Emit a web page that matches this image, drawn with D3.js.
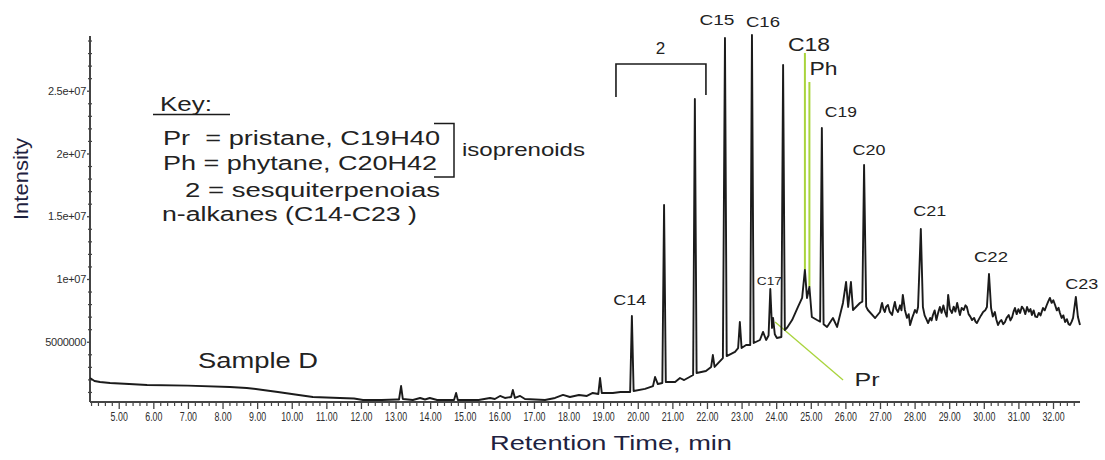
<!DOCTYPE html>
<html>
<head>
<meta charset="utf-8">
<script src="https://cdn.jsdelivr.net/npm/d3@7"></script>
<style>
  html, body { margin: 0; padding: 0; background: #fff; }
  svg { display: block; font-family: "Liberation Sans", Arial, sans-serif; }
</style>
</head>
<body>
<svg id="chart" width="1105" height="460"></svg>
<script>
// ---- Data -------------------------------------------------------------
// Total ion chromatogram of Sample D: [retention time (min), intensity (millions)]
const chromatogram = [
  [4.17, 2.11], [4.30, 1.87], [4.46, 1.79], [4.75, 1.71], [5.30, 1.63], [5.82, 1.55],
  [7.00, 1.50], [8.21, 1.39], [8.70, 1.32], [9.17, 1.16], [9.60, 1.00], [10.10, 0.80],
  [10.61, 0.60], [11.39, 0.52], [11.80, 0.48], [12.06, 0.36], [12.60, 0.36], [13.04, 0.40],
  [13.10, 0.40], [13.16, 1.47], [13.21, 0.44], [13.50, 0.36], [13.71, 0.52], [13.85, 0.40],
  [13.99, 0.52], [14.20, 0.36], [14.69, 0.36], [14.75, 0.92], [14.80, 0.36], [15.40, 0.36],
  [15.73, 0.52], [15.87, 0.44], [16.02, 0.68], [16.16, 0.52], [16.34, 0.60], [16.39, 1.16],
  [16.45, 0.52], [16.60, 0.68], [16.74, 0.44], [17.32, 0.36], [17.61, 0.52], [17.84, 0.76],
  [18.04, 0.60], [18.30, 0.76], [18.53, 0.68], [18.70, 0.92], [18.86, 0.84], [18.91, 2.11],
  [18.96, 0.92], [19.28, 0.92], [19.50, 1.00], [19.78, 1.00], [19.83, 7.05], [19.88, 1.08],
  [20.21, 1.24], [20.44, 1.47], [20.50, 2.19], [20.58, 1.63], [20.71, 1.71], [20.76, 15.90],
  [20.81, 1.79], [21.08, 1.79], [21.22, 2.11], [21.34, 1.95], [21.60, 2.35], [21.65, 24.34],
  [21.70, 2.51], [21.97, 2.67], [22.12, 2.99], [22.17, 3.94], [22.22, 2.99], [22.46, 3.70],
  [22.52, 29.20], [22.57, 3.86], [22.81, 4.20], [22.90, 4.50], [22.95, 6.57], [23.00, 4.50],
  [23.13, 4.74], [23.25, 4.74], [23.30, 29.44], [23.35, 4.90], [23.53, 5.14], [23.62, 5.78],
  [23.71, 5.14], [23.78, 5.50], [23.83, 9.20], [23.88, 6.10], [23.91, 6.89], [23.96, 5.60],
  [24.02, 5.30], [24.15, 5.38], [24.20, 27.05], [24.25, 5.94], [24.31, 6.10], [24.46, 6.73],
  [24.63, 7.77], [24.75, 8.49], [24.83, 10.72], [24.89, 8.49], [24.96, 9.36], [25.03, 6.97],
  [25.18, 6.73], [25.27, 6.60], [25.32, 22.03], [25.37, 6.40], [25.47, 6.18], [25.64, 6.89],
  [25.76, 6.18], [25.93, 8.09], [26.02, 9.76], [26.08, 7.77], [26.16, 9.76], [26.22, 7.53],
  [26.42, 8.09], [26.49, 8.20], [26.54, 19.08], [26.60, 7.80], [26.65, 7.53], [26.86, 6.89],
  [27.00, 7.37], [27.04, 7.90], [27.06, 8.09], [27.10, 7.60], [27.14, 7.37], [27.18, 7.80],
  [27.23, 7.93], [27.28, 7.40], [27.35, 7.13], [27.39, 7.70], [27.43, 8.17], [27.47, 7.60],
  [27.52, 7.37], [27.58, 7.90], [27.62, 7.50], [27.66, 8.73], [27.72, 7.53], [27.78, 6.90],
  [27.83, 7.20], [27.87, 6.33], [27.93, 6.90], [27.97, 7.20], [28.01, 7.53], [28.06, 7.30],
  [28.10, 7.77], [28.18, 13.98], [28.24, 7.77], [28.29, 7.10], [28.34, 6.80], [28.39, 6.49],
  [28.45, 6.90], [28.49, 6.70], [28.53, 7.13], [28.58, 7.50], [28.63, 6.73], [28.68, 7.30],
  [28.73, 7.77], [28.78, 7.30], [28.83, 7.90], [28.88, 7.37], [28.93, 7.00], [28.97, 8.73],
  [29.02, 7.60], [29.08, 7.29], [29.13, 7.80], [29.18, 7.40], [29.23, 8.09], [29.27, 7.60],
  [29.31, 7.13], [29.36, 7.70], [29.42, 7.53], [29.47, 7.90], [29.51, 7.77], [29.56, 7.20],
  [29.61, 7.00], [29.66, 6.73], [29.72, 6.90], [29.76, 6.60], [29.80, 6.49], [29.86, 6.80],
  [29.92, 7.10], [29.98, 7.37], [30.04, 7.50], [30.09, 7.77], [30.15, 10.40], [30.21, 7.69],
  [30.26, 7.00], [30.32, 7.37], [30.36, 6.80], [30.41, 6.33], [30.46, 6.60], [30.51, 6.73],
  [30.56, 6.40], [30.61, 6.57], [30.66, 6.90], [30.72, 7.13], [30.77, 6.70], [30.82, 6.97],
  [30.86, 7.40], [30.90, 7.69], [30.95, 7.20], [31.00, 7.60], [31.05, 7.29], [31.10, 7.80],
  [31.15, 7.61], [31.20, 7.20], [31.25, 7.77], [31.30, 7.40], [31.35, 7.60], [31.39, 7.13],
  [31.44, 7.50], [31.49, 7.00], [31.54, 6.97], [31.59, 7.30], [31.64, 7.10], [31.71, 7.69],
  [31.76, 7.50], [31.82, 7.93], [31.86, 8.20], [31.91, 8.49], [31.96, 8.10], [32.01, 8.30],
  [32.06, 7.93], [32.11, 7.50], [32.16, 7.70], [32.20, 7.29], [32.25, 6.90], [32.30, 7.10],
  [32.35, 6.57], [32.40, 6.80], [32.45, 6.40], [32.49, 6.33], [32.54, 6.60], [32.58, 6.90],
  [32.66, 8.57], [32.72, 6.97], [32.78, 6.33]
];

// Identified peaks: name, retention time (min), apex intensity (millions)
const peakNames = ["C14", "C15", "C16", "C17", "C18", "Ph", "C19", "C20", "C21", "C22", "C23", "Pr"];
const peakTimes = [19.83, 22.52, 23.30, 23.83, 24.83, 24.96, 25.32, 26.54, 28.18, 30.15, 32.66, 23.91];
const peakApex  = [7.05, 29.20, 29.44, 9.20, 10.72, 9.36, 22.03, 19.08, 13.98, 10.40, 8.57, 6.89];

// Sesquiterpenoid group (label "2") spans this retention-time window
const sesquiterpenoidWindow = [19.37, 21.97];

// Axis ticks
const xTickValues = [5, 6, 7, 8, 9, 10, 11, 12, 13, 14, 15, 16, 17, 18, 19, 20, 21, 22, 23, 24, 25, 26, 27, 28, 29, 30, 31, 32];
const xTickLabels = ["5.00", "6.00", "7.00", "8.00", "9.00", "10.00", "11.00", "12.00", "13.00", "14.00",
  "15.00", "16.00", "17.00", "18.00", "19.00", "20.00", "21.00", "22.00", "23.00", "24.00", "25.00",
  "26.00", "27.00", "28.00", "29.00", "30.00", "31.00", "32.00"];
const yTickValues = [5, 10, 15, 20, 25];
const yTickLabels = ["5000000", "1e+07", "1.5e+07", "2e+07", "2.5e+07"];

// Key text
const keyLines = ["Pr  = pristane, C19H40", "Ph = phytane, C20H42", "2 = sesquiterpenoias", "n-alkanes (C14-C23 )"];

// ---- Layout -----------------------------------------------------------
const plot = { left: 90, right: 1080, top: 36, bottom: 402 };
const GREEN = "#a9d43c";
const INK = "#1b1b1b";

// label placement relative to each peak apex (pixels)
const labelLayout = {
  C14: { dx: -2, dy: -11, size: 15, width: 33 },
  C15: { dx: -8, dy: -13, size: 15, width: 35 },
  C16: { dx: 11, dy: -8, size: 15, width: 34 },
  C17: { dx: -1, dy: -4, size: 11, width: 25 },
  C18: { dx: 4, dy: -219, size: 19, width: 42, leaderTop: -217 },
  Ph:  { dx: 14, dy: -212, size: 19, width: 28, leaderTop: -205 },
  C19: { dx: 19, dy: -11, size: 15, width: 32 },
  C20: { dx: 5, dy: -10, size: 15, width: 33 },
  C21: { dx: 9, dy: -13, size: 15, width: 33 },
  C22: { dx: 2, dy: -12, size: 15, width: 34 },
  C23: { dx: 6, dy: -8, size: 15, width: 33 },
  Pr:  { dx: 94, dy: 68, size: 19, width: 25, leaderFrom: [2, 4], leaderTo: [70, 62] }
};

const svg = d3.select("#chart");

const x = d3.scaleLinear().domain([4.17, 32.78]).range([plot.left, plot.right]);
const y = d3.scaleLinear().domain([0, 29.36]).range([404.5, plot.top]);

// ---- Axes -------------------------------------------------------------
const axisColor = "#444";

// minor ticks on x (every 0.2 min)
const xMinor = d3.range(4.2, 32.78, 0.2).filter(v => Math.abs(v - Math.round(v)) > 0.05);
svg.append("g")
  .attr("transform", `translate(0,${plot.bottom})`)
  .call(d3.axisBottom(x).tickValues(xMinor).tickSize(4).tickFormat(""))
  .call(g => g.select(".domain").remove())
  .call(g => g.selectAll("line").attr("stroke", axisColor).attr("stroke-width", 1.2));

const xAxis = svg.append("g")
  .attr("transform", `translate(0,${plot.bottom})`)
  .call(d3.axisBottom(x).tickValues(xTickValues).tickSize(7).tickPadding(3)
    .tickFormat((d, i) => xTickLabels[i]));
xAxis.select(".domain").remove();
xAxis.selectAll("line").attr("stroke", axisColor).attr("stroke-width", 1.3);
xAxis.selectAll("text")
  .attr("fill", "#2e2e2e")
  .style("font-size", "13px")
  .attr("transform", "scale(0.68,1)");

// minor ticks on y (every 1e6)
const yMinor = d3.range(1, 30).filter(v => v % 5 !== 0);
svg.append("g")
  .attr("transform", `translate(${plot.left + 2},0)`)
  .call(d3.axisLeft(y).tickValues(yMinor).tickSize(4).tickFormat(""))
  .call(g => g.select(".domain").remove())
  .call(g => g.selectAll("line").attr("stroke", axisColor).attr("stroke-width", 1.2));

const yAxis = svg.append("g")
  .attr("transform", `translate(${plot.left},0)`)
  .call(d3.axisLeft(y).tickValues(yTickValues).tickSize(3).tickPadding(1)
    .tickFormat((d, i) => yTickLabels[i]));
yAxis.select(".domain").remove();
yAxis.selectAll("line").attr("stroke", axisColor).attr("stroke-width", 1.3);
yAxis.selectAll("text")
  .attr("fill", "#2e2e2e")
  .style("font-size", "11px")
  .style("letter-spacing", "-0.3px");

// axis lines
svg.append("line")
  .attr("x1", plot.left).attr("x2", plot.left)
  .attr("y1", plot.top).attr("y2", plot.bottom)
  .attr("stroke", axisColor).attr("stroke-width", 2);
svg.append("line")
  .attr("x1", plot.left).attr("x2", plot.right)
  .attr("y1", plot.bottom).attr("y2", plot.bottom)
  .attr("stroke", axisColor).attr("stroke-width", 2);

// axis titles
svg.append("text")
  .attr("transform", "translate(28,179) rotate(-90)")
  .attr("text-anchor", "middle")
  .attr("textLength", 82).attr("lengthAdjust", "spacingAndGlyphs")
  .style("font-size", "20px").attr("fill", "#1e2240")
  .text("Intensity");

svg.append("text")
  .attr("x", 611).attr("y", 450)
  .attr("text-anchor", "middle")
  .attr("textLength", 242).attr("lengthAdjust", "spacingAndGlyphs")
  .style("font-size", "21px").attr("fill", "#1e2240")
  .text("Retention Time, min");

// ---- Leader lines (drawn under the trace) ------------------------------
const peaks = peakNames.map((name, i) => ({ name, t: peakTimes[i], v: peakApex[i] }));

peaks.forEach(p => {
  const L = labelLayout[p.name];
  const px = x(p.t), py = y(p.v);
  if (L.leaderTop !== undefined) {
    svg.append("line")
      .attr("x1", px).attr("x2", px)
      .attr("y1", py).attr("y2", py + L.leaderTop)
      .attr("stroke", GREEN).attr("stroke-width", 2);
  }
  if (L.leaderFrom) {
    svg.append("line")
      .attr("x1", px + L.leaderFrom[0]).attr("y1", py + L.leaderFrom[1])
      .attr("x2", px + L.leaderTo[0]).attr("y2", py + L.leaderTo[1])
      .attr("stroke", GREEN).attr("stroke-width", 1.3);
  }
});

// ---- Trace ------------------------------------------------------------
const line = d3.line().x(d => x(d[0])).y(d => y(d[1]));
svg.append("path")
  .datum(chromatogram)
  .attr("d", line)
  .attr("fill", "none")
  .attr("stroke", INK)
  .attr("stroke-width", 1.9)
  .attr("stroke-linejoin", "round");

// ---- Peak labels --------------------------------------------------------
peaks.forEach(p => {
  const L = labelLayout[p.name];
  svg.append("text")
    .attr("x", x(p.t) + L.dx).attr("y", y(p.v) + L.dy)
    .attr("text-anchor", "middle")
    .attr("textLength", L.width).attr("lengthAdjust", "spacingAndGlyphs")
    .style("font-size", L.size + "px")
    .attr("fill", "#222")
    .text(p.name);
});

// sesquiterpenoid bracket "2"
const bx0 = x(sesquiterpenoidWindow[0]), bx1 = x(sesquiterpenoidWindow[1]);
svg.append("path")
  .attr("d", `M${bx0},97 V64 H${bx1} V95`)
  .attr("fill", "none").attr("stroke", INK).attr("stroke-width", 1.6);
svg.append("text")
  .attr("x", (bx0 + bx1) / 2 - 0.5).attr("y", 54)
  .attr("text-anchor", "middle")
  .style("font-size", "17px").attr("fill", "#222")
  .text("2");

// ---- Key ----------------------------------------------------------------
svg.append("text")
  .attr("x", 160).attr("y", 111)
  .attr("textLength", 52).attr("lengthAdjust", "spacingAndGlyphs")
  .style("font-size", "21px").attr("fill", "#222")
  .text("Key:");
svg.append("line")
  .attr("x1", 153).attr("x2", 230).attr("y1", 114.5).attr("y2", 114.5)
  .attr("stroke", INK).attr("stroke-width", 1.4);

const keyX = [163, 163, 185, 162];
const keyY = [145, 170, 197, 221];
const keyW = [277, 274, 255, 255];
keyLines.forEach((s, i) => {
  svg.append("text")
    .attr("x", keyX[i]).attr("y", keyY[i])
    .attr("textLength", keyW[i]).attr("lengthAdjust", "spacingAndGlyphs")
    .style("font-size", "20px").style("white-space", "pre")
    .attr("fill", "#222")
    .text(s);
});

// isoprenoid bracket
svg.append("path")
  .attr("d", "M434,123.5 H454 V177 H434")
  .attr("fill", "none").attr("stroke", INK).attr("stroke-width", 1.5);
svg.append("text")
  .attr("x", 462).attr("y", 156)
  .attr("textLength", 123).attr("lengthAdjust", "spacingAndGlyphs")
  .style("font-size", "19px").attr("fill", "#222")
  .text("isoprenoids");

// sample name
svg.append("text")
  .attr("x", 198).attr("y", 368)
  .attr("textLength", 120).attr("lengthAdjust", "spacingAndGlyphs")
  .style("font-size", "22px").attr("fill", "#222")
  .text("Sample D");
</script>
</body>
</html>
